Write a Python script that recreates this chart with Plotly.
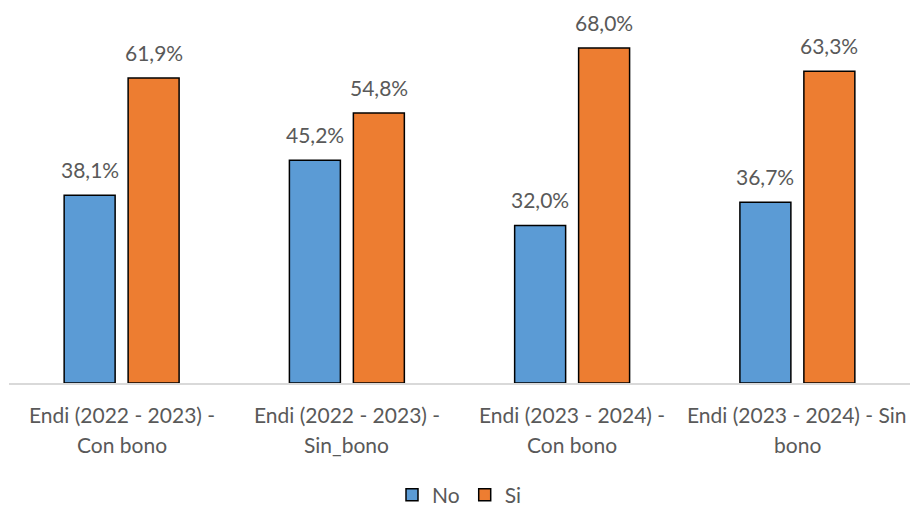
import plotly.graph_objects as go

categories = [
    "Endi (2022 - 2023) -<br>Con bono",
    "Endi (2022 - 2023) -<br>Sin_bono",
    "Endi (2023 - 2024) -<br>Con bono",
    "Endi (2023 - 2024) - Sin<br>bono",
]
no_values = [38.1, 45.2, 32.0, 36.7]
si_values = [61.9, 54.8, 68.0, 63.3]

FONT = "Lato"
TEXT_COLOR = "#595959"
PLOT_H = 506 - 20 - 123

def pct(v):
    return f"{v:.1f}%".replace(".", ",")

fig = go.Figure()
fig.add_trace(go.Bar(
    name="No", x=categories, y=no_values,
    marker=dict(color="#5B9BD5", line=dict(color="#000000", width=1.5)),
))
fig.add_trace(go.Bar(
    name="Si", x=categories, y=si_values,
    marker=dict(color="#ED7D31", line=dict(color="#000000", width=1.5)),
))

annotations = []
# value labels above each bar
for i, c in enumerate(categories):
    for vals, off in ((no_values, -0.142), (si_values, 0.142)):
        annotations.append(dict(
            x=i + off, y=vals[i], xref="x", yref="y",
            text=pct(vals[i]), showarrow=False,
            yanchor="bottom", yshift=11,
            font=dict(family=FONT, size=21, color=TEXT_COLOR),
        ))

# category labels, one annotation per line for a looser line spacing
for i, c in enumerate(categories):
    for k, line in enumerate(c.split("<br>")):
        annotations.append(dict(
            x=i, y=-(31 + 30 * k) / PLOT_H, xref="x", yref="paper",
            text=line, showarrow=False, yanchor="middle",
            font=dict(family=FONT, size=21, color=TEXT_COLOR),
        ))

fig.update_layout(
    width=913, height=506,
    margin=dict(l=9, r=3, t=20, b=123, autoexpand=False),
    plot_bgcolor="white", paper_bgcolor="white",
    barmode="group", bargap=0.432, bargroupgap=0.203,
    font=dict(family=FONT, size=21, color=TEXT_COLOR),
    showlegend=True,
    legend=dict(orientation="h", x=0.5, xanchor="center", y=-0.309, yanchor="middle",
                font=dict(family=FONT, size=21, color=TEXT_COLOR),
                traceorder="normal"),
    annotations=annotations,
    xaxis=dict(showline=True, linecolor="#D9D9D9", linewidth=2, ticks="",
               showticklabels=False, automargin=False),
    yaxis=dict(range=[0, 73.7], visible=False, showgrid=False, zeroline=False,
               automargin=False),
)

fig.write_html("out.html")
